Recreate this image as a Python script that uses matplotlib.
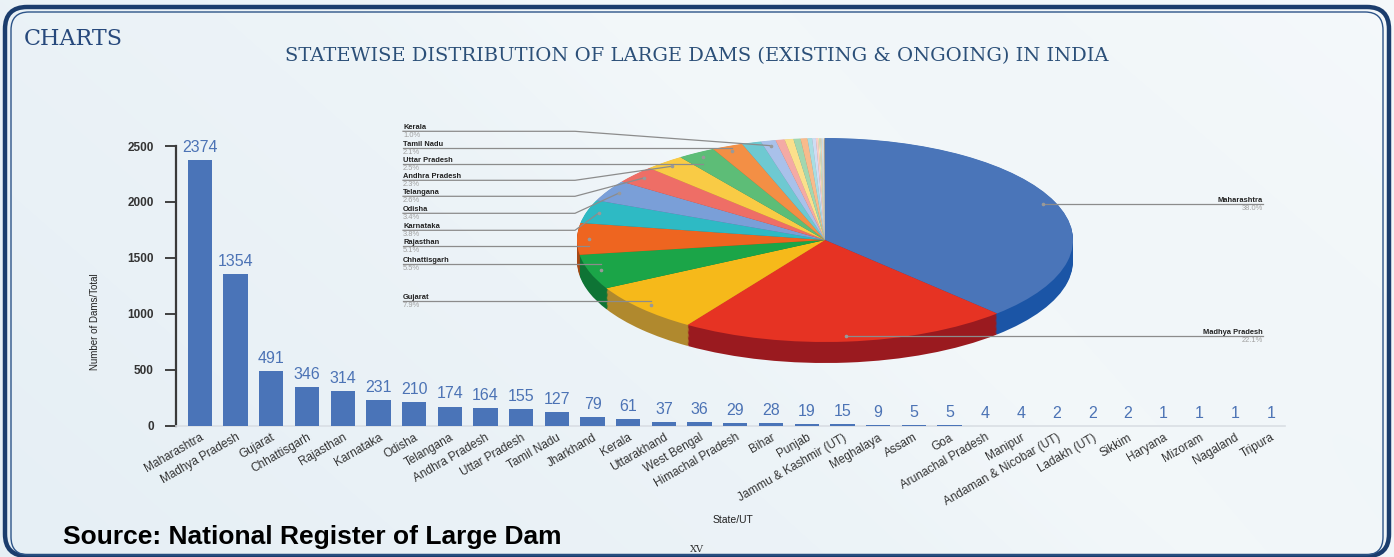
import numpy as np
import matplotlib
matplotlib.use('Agg')
import matplotlib.pyplot as plt
import matplotlib.transforms as mtrans
from matplotlib.patches import FancyBboxPatch
from matplotlib.colors import to_rgb

# dam counts by state / UT
states = ['Maharashtra', 'Madhya Pradesh', 'Gujarat', 'Chhattisgarh', 'Rajasthan',
          'Karnataka', 'Odisha', 'Telangana', 'Andhra Pradesh', 'Uttar Pradesh',
          'Tamil Nadu', 'Jharkhand', 'Kerala', 'Uttarakhand', 'West Bengal',
          'Himachal Pradesh', 'Bihar', 'Punjab', 'Jammu & Kashmir (UT)', 'Meghalaya',
          'Assam', 'Goa', 'Arunachal Pradesh', 'Manipur', 'Andaman & Nicobar (UT)',
          'Ladakh (UT)', 'Sikkim', 'Haryana', 'Mizoram', 'Nagaland', 'Tripura']
dams = [2374, 1354, 491, 346, 314, 231, 210, 174, 164, 155, 127, 79, 61, 37, 36,
        29, 28, 19, 15, 9, 5, 5, 4, 4, 2, 2, 2, 1, 1, 1, 1]

# pie labels as printed on the chart
pie_left_names = ['Kerala', 'Tamil Nadu', 'Uttar Pradesh', 'Andhra Pradesh', 'Telangana',
                  'Odisha', 'Karnataka', 'Rajasthan', 'Chhattisgarh', 'Gujarat']
pie_left_pcts = ['1.0%', '2.1%', '2.5%', '2.3%', '2.6%', '3.4%', '3.8%', '5.1%', '5.5%', '7.9%']
pie_right_names = ['Maharashtra', 'Madhya Pradesh']
pie_right_pcts = ['38.0%', '22.1%']

pie_colors = ['#4a75b9', '#e63323', '#f6b91a', '#1ba548', '#ee6520', '#2ebac4',
              '#7a9fd8', '#ee6e66', '#f9cb45', '#5dbd77', '#f38f45', '#6ec9d1',
              '#a9c1ea', '#f4aaa5', '#fbe08c', '#a2d7b0', '#f8bb8c', '#a8dee3',
              '#cfdcf3', '#f8cfcc', '#fcebb8', '#c9e7d1', '#fad6ba', '#cdeef0',
              '#e2eaf8', '#fbe3e1', '#fdf3d6', '#e0f1e5', '#fce6d5', '#e3f5f6', '#222222']
side_override = {0: '#1b55a6', 1: '#9a1a1f', 2: '#b0892e', 3: '#0e7435'}
bar_color = '#4a74b8'

W, H = 1394, 557
fig = plt.figure(figsize=(W / 100, H / 100), dpi=100)

# background with soft gradient and the page frame
bg = fig.add_axes([0, 0, 1, 1], zorder=0)
gx = np.linspace(0, 1, 300)
gy = np.linspace(0, 1, 120)
GX, GY = np.meshgrid(gx, gy)
t = np.clip(0.55 * GX + 0.25 * (1 - GY) + 0.2 * np.exp(-((GX - 0.45 - 0.4 * GY) ** 2) / 0.02), 0, 1)
c0 = np.array(to_rgb('#e6eff5'))
c1 = np.array(to_rgb('#f8fbfc'))
img = c0[None, None, :] * (1 - t[..., None]) + c1[None, None, :] * t[..., None]
bg.imshow(img, extent=[0, W, H, 0], aspect='auto', interpolation='bilinear')
bg.set_xlim(0, W)
bg.set_ylim(H, 0)
bg.axis('off')
bg.add_patch(FancyBboxPatch((5, 7), W - 10, H - 8, boxstyle='round,pad=0,rounding_size=22',
                            fill=False, ec='#1b3d6d', lw=3.2))
bg.add_patch(FancyBboxPatch((11, 12), W - 22, H - 14, boxstyle='round,pad=0,rounding_size=18',
                            fill=False, ec='#2d5488', lw=1.0))

bg.text(24, 39, 'CHARTS', family='DejaVu Serif', fontsize=16, color='#27497c',
        ha='left', va='center')
bg.text(697, 56, 'STATEWISE DISTRIBUTION OF LARGE DAMS (EXISTING & ONGOING) IN INDIA',
        family='DejaVu Serif', fontsize=14, color='#2b4f78', ha='center', va='center')
bg.text(63, 537, 'Source: National Register of Large Dam', family='Liberation Sans',
        fontsize=19, fontweight='bold', color='black', ha='left', va='center')
bg.text(697, 549, 'XV', family='DejaVu Serif', fontsize=7, color='#333333',
        ha='center', va='center')

# bar chart
ax = fig.add_axes([176 / W, (H - 426) / H, 1109 / W, 280 / H], zorder=2)
ax.patch.set_alpha(0)
x = np.arange(len(states))
ax.bar(x, dams, width=0.68, color=bar_color, zorder=3)
for xi, v in zip(x, dams):
    ax.text(xi, v + 45, str(v), ha='center', va='bottom', fontsize=11.5,
            family='Liberation Sans', color='#4c73b5')
ax.set_xlim(-0.67, 30.4)
ax.set_ylim(0, 2500)
ax.set_yticks([0, 500, 1000, 1500, 2000, 2500])
ax.set_xticks(x)
ax.set_xticklabels(states, rotation=30, ha='right', rotation_mode='anchor',
                   fontsize=8.5, family='Liberation Sans', color='#333333')
shift = mtrans.ScaledTranslation(7 / 100, 0, fig.dpi_scale_trans)
for lab in ax.get_xticklabels():
    lab.set_transform(lab.get_transform() + shift)
for lab in ax.get_yticklabels():
    lab.set_fontweight('bold')
    lab.set_family('Liberation Sans')
ax.tick_params(axis='y', direction='out', length=8, width=1.3, color='#333333',
               labelsize=8.5, labelcolor='#333333', pad=8)
ax.tick_params(axis='x', length=0, pad=4)
for s in ['top', 'right']:
    ax.spines[s].set_visible(False)
ax.spines['left'].set_color('#3a3a3a')
ax.spines['left'].set_linewidth(1.6)
ax.spines['bottom'].set_color('#d9dee4')
ax.spines['bottom'].set_linewidth(1.2)
ax.set_ylabel('Number of Dams/Total', family='Liberation Sans', fontsize=7,
              color='#222222')
ax.yaxis.set_label_coords((100 - 176) / 1109, (426 - 322) / 280)
ax.set_xlabel('State/UT', family='Liberation Sans', fontsize=7.5, color='#222222')
ax.xaxis.set_label_coords((733 - 176) / 1109, -(515 - 426) / 280)

# 3D-looking pie: stacked darker copies for the side wall, then the top face
rx, ry = 248.0, 102.0
cx, cy = 825.0, 240.0
xl, yl = (-1.1, 1.1), (-1.35, 1.1)
pw = (xl[1] - xl[0]) * rx
ph = (yl[1] - yl[0]) * ry
pleft = cx + xl[0] * rx
ptop = cy - yl[1] * ry
pax = fig.add_axes([pleft / W, (H - (ptop + ph)) / H, pw / W, ph / H], zorder=3)
pax.patch.set_alpha(0)
depth = 21 / ry
side_colors = [side_override.get(i, tuple(np.array(to_rgb(c)) * 0.7))
               for i, c in enumerate(pie_colors)]
for off in np.linspace(depth, 0.004, 18):
    pax.pie(dams, colors=side_colors, startangle=90, counterclock=False,
            center=(0, -off), wedgeprops=dict(linewidth=0))
pax.pie(dams, colors=pie_colors, startangle=90, counterclock=False,
        wedgeprops=dict(linewidth=0))
pax.set_aspect('auto')
pax.set_xlim(*xl)
pax.set_ylim(*yl)
pax.axis('off')

# overlay for pie labels and leader lines (pixel coordinates, y down)
ov = fig.add_axes([0, 0, 1, 1], zorder=4)
ov.patch.set_alpha(0)
ov.set_xlim(0, W)
ov.set_ylim(H, 0)
ov.axis('off')

frac = np.cumsum(dams) / np.sum(dams)
mids = frac - np.array(dams) / np.sum(dams) / 2
ang = np.deg2rad(90 - mids * 360)


def slice_point(i, r=0.95):
    disp = pax.transData.transform((r * np.cos(ang[i]), r * np.sin(ang[i])))
    return ov.transData.inverted().transform(disp)


lfs = 5.4
left_idx = [states.index(n) for n in pie_left_names]
left_y = [127, 144, 160, 176, 192, 209, 226, 242, 260, 297]
lc = '#8c8c8c'
for name, pct, i, y in zip(pie_left_names, pie_left_pcts, left_idx, left_y):
    ov.text(403, y + 4, name, fontsize=lfs, family='Liberation Sans', fontweight='bold',
            color='#222222', ha='left', va='bottom')
    ov.text(403, y + 4.6, pct, fontsize=lfs, family='Liberation Sans', color='#a0a0a0',
            ha='left', va='top')
    px, py = slice_point(i)
    ly = y + 4.3
    if abs(py - ly) < 8:
        ov.plot([403, px], [ly, ly], color=lc, lw=0.9)
    else:
        ov.plot([403, 575, px], [ly, ly, py], color=lc, lw=0.9)
    ov.plot(px, py, 'o', ms=1.6, color='#999999')

right_y = [200, 332]
for name, pct, y in zip(pie_right_names, pie_right_pcts, right_y):
    i = states.index(name)
    ov.text(1263, y + 4, name, fontsize=lfs, family='Liberation Sans', fontweight='bold',
            color='#222222', ha='right', va='bottom')
    ov.text(1263, y + 4.6, pct, fontsize=lfs, family='Liberation Sans', color='#a0a0a0',
            ha='right', va='top')
    px, py = slice_point(i)
    ov.plot([px, 1263], [y + 4.3, y + 4.3], color=lc, lw=0.9)
    ov.plot(px, y + 4.3, 'o', ms=1.6, color='#999999')

fig.savefig('out.png', dpi=100)
